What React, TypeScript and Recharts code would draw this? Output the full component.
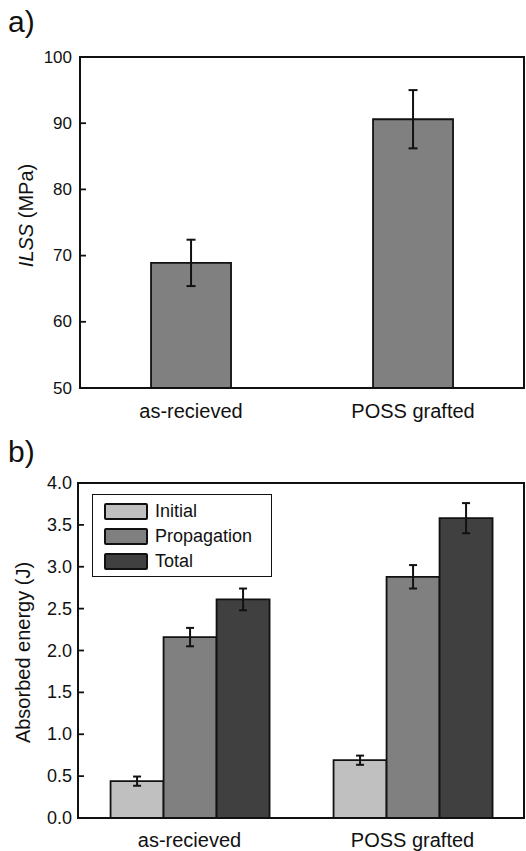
import React from 'react'
import {
  BarChart,
  Bar,
  XAxis,
  YAxis,
  ErrorBar,
  Legend,
  ReferenceArea,
} from 'recharts'

// panel a) interlaminar shear strength
const ilssCategories = ['as-recieved', 'POSS grafted']
const ilssValues = [68.9, 90.6]
const ilssErrors = [3.5, 4.4]
const ilssTicks = [50, 60, 70, 80, 90, 100]

// panel b) absorbed energy
const energyCategories = ['as-recieved', 'POSS grafted']
const initialValues = [0.44, 0.69]
const initialErrors = [0.055, 0.055]
const propagationValues = [2.16, 2.88]
const propagationErrors = [0.11, 0.14]
const totalValues = [2.61, 3.58]
const totalErrors = [0.13, 0.18]
const energyTicks = [0, 0.5, 1, 1.5, 2, 2.5, 3, 3.5, 4]

const FONT = '"Liberation Sans", Arial, Helvetica, sans-serif'
const INK = '#111'

const ilssData = ilssCategories.map((name, i) => ({
  name,
  ilss: ilssValues[i],
  ilssErr: ilssErrors[i],
}))

const energyData = energyCategories.map((name, i) => ({
  name,
  initial: initialValues[i],
  initialErr: initialErrors[i],
  propagation: propagationValues[i],
  propagationErr: propagationErrors[i],
  total: totalValues[i],
  totalErr: totalErrors[i],
}))

interface TitleProps {
  viewBox?: { x: number; y: number; width: number; height: number }
  cx: number
  dy?: number
  children?: React.ReactNode
}

function YTitle({ viewBox, cx, dy = 0, children }: TitleProps) {
  if (!viewBox) return null
  const y = viewBox.y + viewBox.height / 2 + dy
  return (
    <text
      x={cx}
      y={y}
      transform={`rotate(-90, ${cx}, ${y})`}
      textAnchor="middle"
      dominantBaseline="central"
      fontSize={20}
      fontFamily={FONT}
      fill={INK}
    >
      {children}
    </text>
  )
}

interface TickProps {
  x?: number
  y?: number
  payload?: { value: number }
  gap: number
  fontSize: number
  digits: number
}

// left tick label plus a short tick pointing into the plot
function InTick({ x = 0, y = 0, payload, gap, fontSize, digits }: TickProps) {
  const edge = x + gap
  return (
    <g>
      <line x1={edge} x2={edge + 6} y1={y} y2={y} stroke={INK} strokeWidth={1.8} />
      <text
        x={x}
        y={y}
        textAnchor="end"
        dominantBaseline="central"
        fontSize={fontSize}
        fontFamily={FONT}
        fill={INK}
      >
        {payload ? payload.value.toFixed(digits) : ''}
      </text>
    </g>
  )
}

interface LegendItem {
  value: string
  color: string
}

function LegendBox({ payload }: { payload?: LegendItem[] }) {
  if (!payload) return null
  return (
    <div
      style={{
        width: 180,
        height: 83,
        boxSizing: 'border-box',
        border: `1.5px solid ${INK}`,
        background: '#fff',
        padding: '4px 0 0 11px',
        fontFamily: FONT,
      }}
    >
      {payload.map((item) => (
        <div
          key={item.value}
          style={{ display: 'flex', alignItems: 'center', height: 25 }}
        >
          <div
            style={{
              width: 44,
              height: 17,
              boxSizing: 'border-box',
              border: `2px solid ${INK}`,
              borderRadius: 2,
              background: item.color,
              marginRight: 7,
            }}
          />
          <span style={{ fontSize: 18, color: INK }}>{item.value}</span>
        </div>
      ))}
    </div>
  )
}

const panelLabel: React.CSSProperties = {
  position: 'absolute',
  left: 8,
  fontSize: 30,
  lineHeight: '30px',
  fontFamily: FONT,
  color: INK,
}

export default function App() {
  return (
    <div
      style={{
        position: 'absolute',
        left: 0,
        top: 0,
        width: 526,
        height: 851,
        background: '#fff',
        overflow: 'hidden',
      }}
    >
      <div style={{ position: 'absolute', left: 0, top: 0 }}>
        <BarChart
          width={526}
          height={430}
          data={ilssData}
          margin={{ top: 57, right: 2, bottom: 0, left: 0 }}
          barCategoryGap="32%"
        >
          <XAxis
            dataKey="name"
            height={42}
            tickLine={false}
            tickSize={0}
            tickMargin={16}
            axisLine={{ stroke: INK, strokeWidth: 2 }}
            tick={{ fontSize: 20, fontFamily: FONT, fill: INK }}
          />
          <YAxis
            width={80}
            domain={[50, 100]}
            ticks={ilssTicks}
            allowDataOverflow
            tickLine={false}
            tickSize={0}
            tickMargin={8}
            axisLine={{ stroke: INK, strokeWidth: 2 }}
            tick={<InTick gap={8} fontSize={17} digits={0} />}
            label={
              <YTitle cx={26} dy={-7}>
                <tspan fontStyle="italic">ILSS</tspan>
                <tspan> (MPa)</tspan>
              </YTitle>
            }
          />
          <ReferenceArea
            y1={50}
            y2={100}
            fill="none"
            stroke={INK}
            strokeWidth={2}
          />
          <Bar
            dataKey="ilss"
            fill="#808080"
            stroke={INK}
            strokeWidth={1.8}
            isAnimationActive={false}
          >
            <ErrorBar
              dataKey="ilssErr"
              width={4.5}
              stroke={INK}
              strokeWidth={2}
              direction="y"
            />
          </Bar>
        </BarChart>
      </div>

      <div style={{ position: 'absolute', left: 0, top: 430 }}>
        <BarChart
          width={526}
          height={421}
          data={energyData}
          margin={{ top: 53, right: 2, bottom: 0, left: 0 }}
          barCategoryGap="14.6%"
          barGap={0}
        >
          <XAxis
            dataKey="name"
            height={33}
            tickLine={false}
            tickSize={0}
            tickMargin={15}
            axisLine={{ stroke: INK, strokeWidth: 2 }}
            tick={{ fontSize: 20, fontFamily: FONT, fill: INK }}
          />
          <YAxis
            width={78}
            domain={[0, 4]}
            ticks={energyTicks}
            allowDataOverflow
            tickLine={false}
            tickSize={0}
            tickMargin={6}
            axisLine={{ stroke: INK, strokeWidth: 2 }}
            tick={<InTick gap={6} fontSize={18} digits={1} />}
            label={
              <YTitle cx={23} dy={2}>
                Absorbed energy (J)
              </YTitle>
            }
          />
          <ReferenceArea
            y1={0}
            y2={4}
            fill="none"
            stroke={INK}
            strokeWidth={2}
          />
          <Legend
            layout="vertical"
            align="center"
            verticalAlign="middle"
            wrapperStyle={{ left: 92, top: 64, width: 180 }}
            content={<LegendBox />}
          />
          <Bar
            dataKey="initial"
            name="Initial"
            fill="#c0c0c0"
            stroke={INK}
            strokeWidth={1.8}
            isAnimationActive={false}
          >
            <ErrorBar
              dataKey="initialErr"
              width={4}
              stroke={INK}
              strokeWidth={2}
              direction="y"
            />
          </Bar>
          <Bar
            dataKey="propagation"
            name="Propagation"
            fill="#808080"
            stroke={INK}
            strokeWidth={1.8}
            isAnimationActive={false}
          >
            <ErrorBar
              dataKey="propagationErr"
              width={4}
              stroke={INK}
              strokeWidth={2}
              direction="y"
            />
          </Bar>
          <Bar
            dataKey="total"
            name="Total"
            fill="#404040"
            stroke={INK}
            strokeWidth={1.8}
            isAnimationActive={false}
          >
            <ErrorBar
              dataKey="totalErr"
              width={4}
              stroke={INK}
              strokeWidth={2}
              direction="y"
            />
          </Bar>
        </BarChart>
      </div>

      <div style={{ ...panelLabel, top: 7 }}>a)</div>
      <div style={{ ...panelLabel, top: 437 }}>b)</div>
    </div>
  )
}
